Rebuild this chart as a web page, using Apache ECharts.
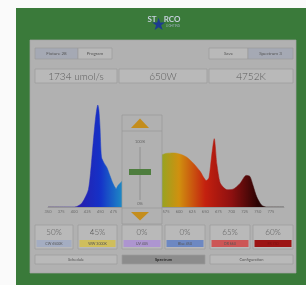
<!DOCTYPE html>
<html><head><meta charset="utf-8">
<script src="https://cdn.jsdelivr.net/npm/echarts/dist/echarts.min.js"></script>
<style>html,body{margin:0;padding:0;background:#fafafa;overflow:hidden}#c{width:306px;height:285px}</style>
</head><body><div id="c"></div>
<script>
// Spectrum data (wavelength nm, relative intensity)
const wavelengths = [350, 380, 400, 405, 414, 420, 427, 431, 436, 441, 445, 447, 449, 452, 457, 462, 468, 474, 480, 484, 489, 495, 505, 520, 535, 550, 566, 575, 589, 601, 614, 627, 640, 652, 657, 662, 667, 672, 678, 685, 691, 703, 716, 728, 735, 741, 748, 757, 766, 800];
const intensity   = [0, 0, 0, 0.005, 0.035, 0.085, 0.17, 0.33, 0.62, 0.885, 1.0, 0.95, 0.8, 0.49, 0.43, 0.39, 0.31, 0.23, 0.18, 0.215, 0.24, 0.28, 0.33, 0.40, 0.46, 0.5, 0.51, 0.525, 0.53, 0.52, 0.49, 0.43, 0.35, 0.26, 0.29, 0.5, 0.67, 0.42, 0.24, 0.19, 0.17, 0.175, 0.23, 0.31, 0.30, 0.21, 0.1, 0.02, 0, 0];
const axisMin = 350, axisMax = 800, tickStep = 25;
const topButtonsLeft = ['Fixture 28', 'Program'];
const topButtonsRight = ['Save', 'Spectrum 3'];
const headerValues = ['1734 umol/s', '650W', '4752K'];
const channelPercents = ['50%', '45%', '0%', '0%', '65%', '60%'];
const channelNames = ['CW 6500K', 'WW 3000K', 'UV 405', 'Blue 450', 'DR 660', 'FR 730'];
const channelColors = ['#a4adc2', '#cfbe5c', '#ad95d0', '#6d88c2', '#cc5656', '#9c1414'];
const navLabels = ['Schedule', 'Spectrum', 'Configuration'];
const sliderLabels = ['100%', '0%'];

const FONT = 'Lato, "Open Sans", sans-serif';
function rect(x, y, w, h, fill, stroke, z) {
  return {type: 'rect', silent: true, z: z || 1, shape: {x: x, y: y, width: w, height: h},
    style: {fill: fill, stroke: stroke || null, lineWidth: stroke ? 0.7 : 0}};
}
function txt(s, x, y, size, color, z, weight) {
  return {type: 'text', silent: true, z: z || 3,
    style: {text: s, x: x, y: y, fill: color, fontSize: size, fontFamily: FONT, fontWeight: weight || 'normal',
      textAlign: 'center', textVerticalAlign: 'middle'}};
}
const PANEL = '#b1b1b1', BOX = '#b9b9b9', BORDER = '#9c9c9c', TXT = '#555';
const g = [];
// green frame and gray panel
g.push(rect(16, 8, 290, 277, '#3a7a3a', null, -2));
g.push(rect(30, 40, 266, 233, PANEL, '#a3a3a3', -1));
// logo
g.push(txt('ST', 152, 19, 8, '#c6d0dc', 3, 'bold'));
g.push(txt('RCO', 172, 19, 8, '#c6d0dc', 3, 'bold'));
g.push(txt('\u2605', 158, 25, 17, '#1d3c8f', 4));
g.push(txt('LIGHTING', 173, 26, 3, '#9fb0c0', 3));
// top buttons
g.push(rect(35, 48, 43, 11, '#a5a9b4', BORDER, 1));
g.push(txt(topButtonsLeft[0], 56.5, 53.5, 4.5, TXT));
g.push(rect(78, 48, 34, 11, BOX, BORDER, 1));
g.push(txt(topButtonsLeft[1], 95, 53.5, 4.5, TXT));
g.push(rect(209, 48, 39, 11, BOX, BORDER, 1));
g.push(txt(topButtonsRight[0], 228.5, 53.5, 4.5, TXT));
g.push(rect(248, 48, 45, 11, '#a5a9b4', BORDER, 1));
g.push(txt(topButtonsRight[1], 270.5, 53.5, 4.5, TXT));
// header value boxes
const hb = [[35, 82], [119, 88], [209, 84]];
hb.forEach((b, i) => {
  g.push(rect(b[0], 69, b[1], 14, BOX, BORDER, 1));
  g.push(txt(headerValues[i], b[0] + b[1] / 2, 76.5, 10, '#5a5a5a', 3, 300));
});
// slider overlay
g.push(rect(122, 115, 40, 109, PANEL, '#9a9a9a', 10));
g.push({type: 'polygon', silent: true, z: 11, shape: {points: [[131, 128], [140, 118.5], [149, 128]]}, style: {fill: '#c48d1c'}});
g.push({type: 'line', silent: true, z: 11, shape: {x1: 122, y1: 131, x2: 162, y2: 131}, style: {stroke: '#9a9a9a', lineWidth: 0.7}});
g.push(txt(sliderLabels[0], 140, 142, 4, '#666', 11));
g.push({type: 'line', silent: true, z: 11, shape: {x1: 140, y1: 147, x2: 140, y2: 200}, style: {stroke: '#888', lineWidth: 0.8}});
g.push(rect(129, 169, 22, 6, '#4e7d3e', null, 12));
g.push(txt(sliderLabels[1], 140, 204, 4, '#666', 11));
g.push({type: 'line', silent: true, z: 11, shape: {x1: 122, y1: 208, x2: 162, y2: 208}, style: {stroke: '#9a9a9a', lineWidth: 0.7}});
g.push({type: 'polygon', silent: true, z: 11, shape: {points: [[131, 212], [149, 212], [140, 220.5]]}, style: {fill: '#c48d1c'}});
// channel boxes
const cb = [[35, 38], [78, 39], [122, 40], [165, 40], [210, 40], [253, 40]];
cb.forEach((b, i) => {
  g.push(rect(b[0], 225, b[1], 24, BOX, BORDER, 1));
  g.push(txt(channelPercents[i], b[0] + b[1] / 2, 232.5, 8, '#585858', 3, 300));
  g.push(rect(b[0] + 1.5, 240, b[1] - 3, 7, channelColors[i], null, 2));
  g.push(txt(channelNames[i], b[0] + b[1] / 2, 243.5, 3.5, i === 5 ? '#7a1010' : '#555', 3));
});
// bottom nav
const nb = [[35, 82], [122, 83], [210, 83]];
nb.forEach((b, i) => {
  g.push(rect(b[0], 255, b[1], 9, i === 1 ? '#8c8c8c' : BOX, BORDER, 1));
  g.push(txt(navLabels[i], b[0] + b[1] / 2, 259.5, 4, i === 1 ? '#2a2a2a' : '#555', 3, i === 1 ? 'bold' : 'normal'));
});

const chart = echarts.init(document.getElementById('c'), null, {renderer: 'canvas'});
chart.setOption({
  backgroundColor: '#fafafa',
  animation: false,
  graphic: {elements: g},
  grid: {left: 48, right: 22, top: 105, bottom: 78},
  xAxis: {type: 'value', z: 5, min: axisMin, max: axisMax, interval: tickStep,
    axisLine: {lineStyle: {color: '#8a8a8a', width: 0.6}},
    axisTick: {show: false}, splitLine: {show: false},
    axisLabel: {fontSize: 4, color: '#6a6a6a', margin: 3, fontFamily: FONT, showMaxLabel: false}},
  yAxis: {type: 'value', min: 0, max: 1, show: false},
  visualMap: {show: false, type: 'continuous', dimension: 0, seriesIndex: 0, min: 350, max: 800,
    inRange: {color: ['#2a0d55', '#2a1aa8', '#1532c8', '#1f9cc4', '#7aae2a', '#d0900f', '#c4200f', '#8e1010', '#2a0404', '#151515']}},
  series: [{type: 'line', z: 2, data: wavelengths.map((w, i) => [w, intensity[i]]),
    showSymbol: false, smooth: 0.25, lineStyle: {width: 0.5}, areaStyle: {opacity: 1}}]
});
</script></body></html>
